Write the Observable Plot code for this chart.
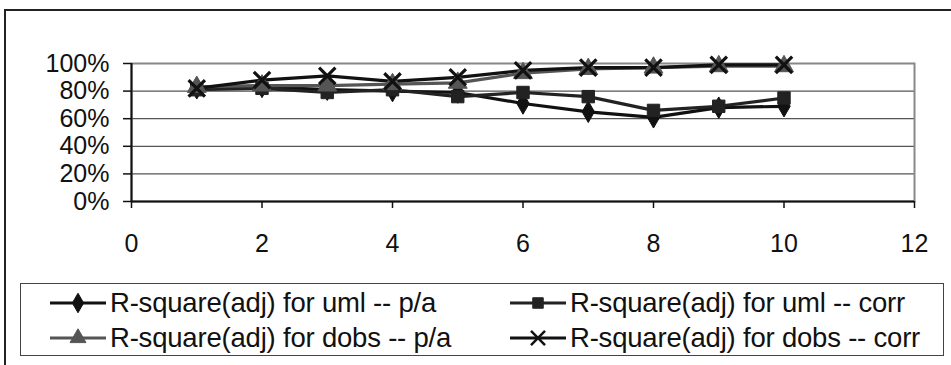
<!DOCTYPE html>
<html>
<head>
<meta charset="utf-8">
<script src="https://cdn.jsdelivr.net/npm/d3@7"></script>
<script src="https://cdn.jsdelivr.net/npm/@observablehq/plot@0.6"></script>
<style>
  html, body { margin: 0; padding: 0; background: #fff; }
  #wrap { position: relative; width: 951px; height: 365px; overflow: hidden; font-family: "Liberation Sans", Arial, sans-serif; }
  #frame { position: absolute; left: 4px; top: 9px; width: 1000px; height: 500px; border-left: 2px solid #222; border-top: 2px solid #222; }
  #legend { position: absolute; left: 20px; top: 283px; width: 924px; height: 73px; border: 1.5px solid #444; box-sizing: border-box; }
  .item { position: absolute; display: flex; align-items: center; height: 34px; font-size: 27.5px; color: #111; white-space: nowrap; letter-spacing: -0.2px; }
  .item svg { margin-right: 3px; }
  #chart { position: absolute; left: 0; top: 0; }
</style>
</head>
<body>
<div id="wrap">
  <div id="frame"></div>
  <div id="chart"></div>
  <div id="legend"></div>
</div>
<script>
const xs = [1, 2, 3, 4, 5, 6, 7, 8, 9, 10];
const seriesNames = [
  "R-square(adj) for uml -- p/a",
  "R-square(adj) for uml -- corr",
  "R-square(adj) for dobs -- p/a",
  "R-square(adj) for dobs -- corr"
];
const umlPA   = [0.82, 0.83, 0.81, 0.80, 0.79, 0.71, 0.65, 0.61, 0.68, 0.69];
const umlCorr = [0.81, 0.82, 0.79, 0.81, 0.76, 0.79, 0.76, 0.66, 0.69, 0.75];
const dobsPA  = [0.83, 0.84, 0.84, 0.85, 0.86, 0.93, 0.96, 0.97, 0.98, 0.98];
const dobsCorr= [0.82, 0.88, 0.91, 0.87, 0.90, 0.95, 0.97, 0.97, 0.99, 0.99];
const xTicks = [0, 2, 4, 6, 8, 10, 12];
const yTicks = [0, 0.2, 0.4, 0.6, 0.8, 1.0];

const seriesValues = [umlPA, umlCorr, dobsPA, dobsCorr];
const styles = [
  {color: "#111", symbol: "diamond", filled: true, r: 6.5},
  {color: "#222", symbol: "square", filled: true, r: 7},
  {color: "#555", symbol: "triangle", filled: true, r: 7},
  {color: "#111", symbol: "times", filled: false, r: 7.5}
];

const data = seriesNames.flatMap((name, i) => xs.map((x, j) => ({series: name, idx: i, x, y: seriesValues[i][j]})));

const marks = [
  Plot.gridY(yTicks, {stroke: "#555", strokeOpacity: 1, strokeWidth: 1.2}),
  Plot.frame({stroke: "#888", strokeWidth: 2}),
  Plot.ruleX([0], {stroke: "#111", strokeWidth: 2}),
  Plot.ruleY([0], {stroke: "#111", strokeWidth: 2}),
  Plot.axisX(xTicks, {tickSize: 7, tickPadding: 26, fontSize: 25, label: null, stroke: "#111", strokeWidth: 1.5, fill: "#111"}),
  Plot.axisY(yTicks, {tickSize: 8, tickPadding: 14, fontSize: 25, label: null, tickFormat: d3.format(".0%"), stroke: "#111", strokeWidth: 1.5, fill: "#111"})
];
styles.forEach((s, i) => {
  const d = data.filter(e => e.idx === i);
  marks.push(Plot.line(d, {x: "x", y: "y", stroke: s.color, strokeWidth: 3.2}));
});
styles.forEach((s, i) => {
  const d = data.filter(e => e.idx === i);
  marks.push(Plot.dot(d, s.filled
    ? {x: "x", y: "y", symbol: () => s.symbol, r: s.r, fill: s.color, stroke: s.color, strokeWidth: 1}
    : {x: "x", y: "y", symbol: () => s.symbol, r: s.r, stroke: s.color, strokeWidth: 3.2}));
});

const chart = Plot.plot({
  width: 951,
  height: 365,
  marginLeft: 131,
  marginRight: 37,
  marginTop: 63,
  marginBottom: 164,
  style: {fontFamily: "'Liberation Sans', Arial, sans-serif", background: "transparent", overflow: "visible"},
  x: {domain: [0, 12], axis: null},
  y: {domain: [0, 1], axis: null},
  symbol: {type: "identity"},
  marks
});
document.getElementById("chart").appendChild(chart);

// Legend (HTML)
const legend = document.getElementById("legend");
const pos = [[28, 2], [488, 2], [28, 37], [488, 37]];
const symPaths = {
  diamond: d3.symbol(d3.symbolDiamond, 110)(),
  square: d3.symbol(d3.symbolSquare, 110)(),
  triangle: d3.symbol(d3.symbolTriangle, 110)(),
  times: d3.symbol(d3.symbolTimes, 130)()
};
seriesNames.forEach((name, i) => {
  const s = styles[i];
  const div = document.createElement("div");
  div.className = "item";
  div.style.left = pos[i][0] + "px";
  div.style.top = pos[i][1] + "px";
  const sym = symPaths[s.symbol];
  const symAttr = s.filled ? `fill="${s.color}" stroke="${s.color}"` : `fill="none" stroke="${s.color}" stroke-width="2.5"`;
  div.innerHTML = `<svg width="58" height="20" viewBox="0 0 58 20"><line x1="1" y1="10" x2="57" y2="10" stroke="${s.color}" stroke-width="2.8"/><path d="${sym}" transform="translate(29,10)" ${symAttr}/></svg><span>${name}</span>`;
  legend.appendChild(div);
});
</script>
</body>
</html>
